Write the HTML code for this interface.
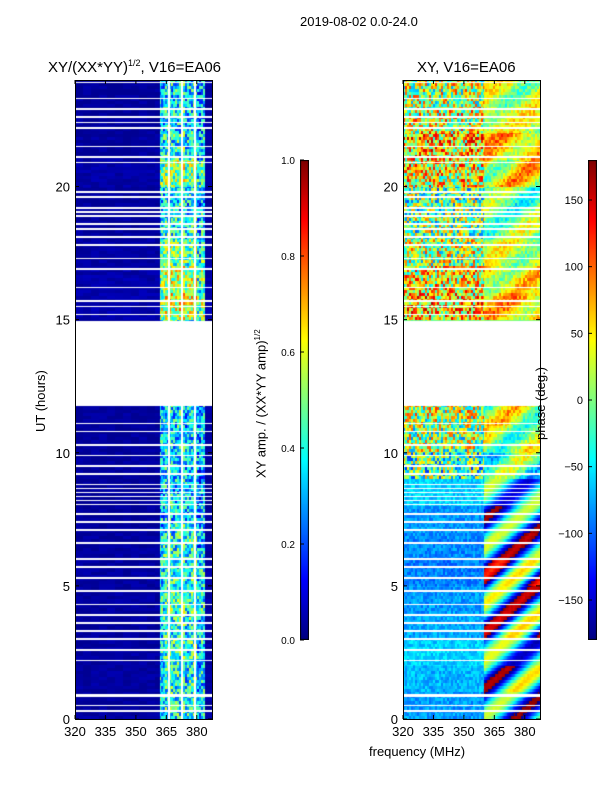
<!DOCTYPE html>
<html><head><meta charset="utf-8"><style>
body{margin:0;background:#fff;width:600px;height:800px;overflow:hidden;font-family:"Liberation Sans",sans-serif;}
.t{position:absolute;font-size:13px;color:#000;white-space:nowrap;z-index:5}
canvas{position:absolute}
</style></head><body>
<div style="position:relative;width:600px;height:800px">
<canvas id="c1" width="137" height="639" style="left:75px;top:80px"></canvas>
<canvas id="c2" width="137" height="639" style="left:403px;top:80px"></canvas>
<canvas id="cb1" width="9" height="480" style="left:300px;top:160px"></canvas>
<canvas id="cb2" width="9" height="480" style="left:588px;top:160px"></canvas>
<svg id="ax" width="600" height="800" style="position:absolute;left:0;top:0"></svg>
<div class="t" style="left:300px;top:14px">2019-08-02 0.0-24.0</div>
<div class="t" style="left:48px;top:58px;font-size:15px">XY/(XX*YY)<sup style="font-size:9px">1/2</sup>, V16=EA06</div>
<div class="t" style="left:417px;top:59px;font-size:15px">XY, V16=EA06</div>
<div class="t" style="left:369px;top:744px">frequency (MHz)</div>
<div class="t" style="left:33px;top:432px;transform:rotate(-90deg);transform-origin:0 0">UT (hours)</div>
<div class="t" style="left:253px;top:478px;transform:rotate(-90deg);transform-origin:0 0">XY amp. / (XX*YY amp)<sup style="font-size:8px">1/2</sup></div>
<div class="t" style="left:533px;top:440px;transform:rotate(-90deg);transform-origin:0 0">phase (deg.)</div>
</div>
<script>
const xTicks=[320,335,350,365,380];
const yTicks=[0,5,10,15,20];
const ampTicks=[0.0,0.2,0.4,0.6,0.8,1.0];
const phaseTicks=[-150,-100,-50,0,50,100,150];
const gapHours=[0.3,0.5,0.85,0.9,2.2,2.6,3.0,3.3,3.6,3.9,4.3,4.8,5.3,5.7,6.0,6.6,7.1,7.4,7.7,8.05,8.2,8.35,8.5,8.65,8.8,9.2,9.5,9.9,10.3,10.8,11.1,15.2,15.5,15.7,16.2,16.9,17.3,17.8,18.1,18.4,18.6,18.9,19.05,19.2,19.6,19.8,20.9,21.1,21.5,22.2,22.4,22.6,22.9,23.3,23.9];
const blankStart=11.75, blankEnd=14.95;
const chanAmp=[0.03,0.03,0.03,0.03,0.03,0.03,0.03,0.03,0.03,0.03,0.03,0.03,0.03,0.03,0.03,0.03,0.03,0.03,0.03,0.03,0.03,0.35,0.4,0.42,0.38,0.4,0.44,0.36,0.4,0.42,0.3,0.35,0.03,0.03];
const hourAmpScale=[1.0,1.0,1.05,1.0,1.1,1.05,1.0,0.9,0.85,0.9,0.9,0.9,1,1,1,1.5,1.4,1.2,1.0,0.9,1.3,1.0,0.9,0.9];
const phaseBase=[-80,-70,-60,-75,-80,-90,-85,-80,-60,-20,10,20,0,0,0,60,40,20,0,-10,40,60,30,20];
const phaseSwirl=[110,130,100,140,130,150,120,110,90,60,50,60,0,0,0,40,40,30,40,40,60,40,30,40];
const X0=75,X1=212,Y0=719,Y1=80,XR=[320,387.5],YR=[0,24];
const sx=f=>(f-XR[0])/(XR[1]-XR[0])*(X1-X0);
const sy=h=>(YR[1]-h)/(YR[1]-YR[0])*(Y0-Y1);
function jet(v){v=Math.max(0,Math.min(1,v));const r=Math.max(0,Math.min(1,1.5-Math.abs(4*v-3))),g=Math.max(0,Math.min(1,1.5-Math.abs(4*v-2))),b=Math.max(0,Math.min(1,1.5-Math.abs(4*v-1)));return [r*255|0,g*255|0,b*255|0];}
function hsh(a,b){let h=(a*374761393+b*668265263)|0;h=(h^(h>>>13))*1274126177|0;return ((h^(h>>>16))>>>0)/4294967295;}
function isGap(h){if(h>=blankStart&&h<=blankEnd)return true;for(const g of gapHours)if(Math.abs(h-g)<0.03)return true;return false;}
function draw(id,fn){const c=document.getElementById(id).getContext('2d');const im=c.createImageData(137,639);
for(let y=0;y<639;y++){const h=24-(y+0.5)/639*24;const gap=isGap(h);const row=Math.floor(y/3);
for(let x=0;x<137;x++){const f=XR[0]+(x+0.5)/137*(XR[1]-XR[0]);let col=[255,255,255];
if(!gap){col=fn(h,f,row,x);}const i=(y*137+x)*4;im.data[i]=col[0];im.data[i+1]=col[1];im.data[i+2]=col[2];im.data[i+3]=255;}}
c.putImageData(im,0,0);}
draw('c1',(h,f,row,x)=>{const ci=Math.min(chanAmp.length-1,Math.floor((f-320)/2));const a=chanAmp[ci]*hourAmpScale[Math.floor(h)%24];
if(f>366&&f<367||f>372&&f<373||f>378.5&&f<379.5)return [255,255,255];
const n=a>0.2?(hsh(row,x>>1)-0.5)*0.4:(hsh(row,x>>3)-0.5)*0.04;return jet(Math.max(0.02,a+n));});
draw('c2',(h,f,row,x)=>{const hi=Math.floor(h)%24;let p=phaseBase[hi];let noise=(h>9&&h<11.8)||h>15?200:40;
if(f>360)p+=phaseSwirl[hi]*Math.sin((f-360)/5+row/3);
p+=(hsh(row,x>>1)-0.5)*noise*(f>360?0.3:1);p=((p+180)%360+360)%360-180;return jet((p+180)/360);});
['cb1','cb2'].forEach(id=>{const c=document.getElementById(id).getContext('2d');for(let y=0;y<480;y++){const k=jet(1-y/479);c.fillStyle=`rgb(${k})`;c.fillRect(0,y,9,1);}c.strokeStyle='#000';c.strokeRect(0.5,0.5,8,479);});
const ns='http://www.w3.org/2000/svg',svg=document.getElementById('ax');
function el(t,a,txt){const e=document.createElementNS(ns,t);for(const k in a)e.setAttribute(k,a[k]);if(txt!==undefined)e.textContent=txt;svg.appendChild(e);return e;}
[75,403].forEach((ox,pi)=>{
const fr=el('rect',{x:ox+0.5,y:Y1+0.5,width:137,height:639,fill:'none',stroke:'#000'});


xTicks.forEach(v=>{const x=ox+sx(v);el('line',{x1:x,x2:x,y1:Y0,y2:Y0-4,stroke:'#000'});el('line',{x1:x,x2:x,y1:Y1,y2:Y1+4,stroke:'#000'});
const t=el('text',{x:x,y:Y0+17,'font-size':13,'text-anchor':'middle','font-family':'Liberation Sans'},v);

});
yTicks.forEach(v=>{const y=Y1+sy(v);el('line',{x1:ox,x2:ox+4,y1:y,y2:y,stroke:'#000'});el('line',{x1:ox+137,x2:ox+133,y1:y,y2:y,stroke:'#000'});
const t=el('text',{x:ox-5,y:y+5,'font-size':13,'text-anchor':'end','font-family':'Liberation Sans'},v);

});
});
ampTicks.forEach(v=>{const y=640-v*480;el('line',{x1:300,x2:304,y1:y,y2:y,stroke:'#000'});
const t=el('text',{x:295,y:y+4,'font-size':10,'text-anchor':'end','font-family':'Liberation Sans'},v.toFixed(1));

});
phaseTicks.forEach(v=>{const y=640-(v+180)/360*480;el('line',{x1:588,x2:592,y1:y,y2:y,stroke:'#000'});
const t=el('text',{x:583,y:y+4,'font-size':11,'text-anchor':'end','font-family':'Liberation Sans'},v<0?'\u2212'+(-v):v);

});
</script>
</body></html>
